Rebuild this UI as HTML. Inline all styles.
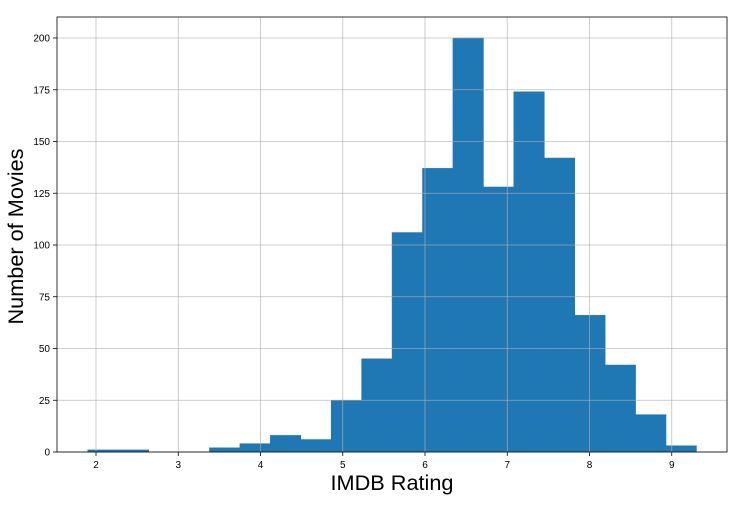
<!DOCTYPE html>
<html><head><meta charset="utf-8"><style>
body{margin:0;background:#fff;}
svg{display:block;font-family:"Liberation Sans",sans-serif;}
</style></head><body>
<svg id="chart" width="747" height="508"></svg>
<script>
const binStart = 1.9;
const binWidth = 0.37;
const counts = [1,1,0,0,2,4,8,6,25,45,106,137,200,128,174,142,66,42,18,3];
const xTicks = [2,3,4,5,6,7,8,9];
const yTicks = [0,25,50,75,100,125,150,175,200];

const L=57,R=727,T=17,B=452;
const xs = v => 96 + (v-2)*82.25;
const ys = v => B - v*2.07;
const NS="http://www.w3.org/2000/svg";
const svg=document.getElementById('chart');
function mk(tag,attrs,parent){const e=document.createElementNS(NS,tag);for(const k in attrs)e.setAttribute(k,attrs[k]);(parent||svg).appendChild(e);return e;}

counts.forEach((c,i)=>{
  const x0=xs(binStart+i*binWidth), x1=xs(binStart+(i+1)*binWidth);
  const r=mk('rect',{x:x0,y:ys(c),width:x1-x0,height:B-ys(c),fill:'#1f77b4',stroke:'#1f77b4','stroke-width':0.6});
  
  
});
xTicks.forEach(t=>{
  const x=xs(t);
  const g=mk('line',{x1:x,x2:x,y1:T,y2:B,stroke:'#b0b0b0','stroke-width':0.8,opacity:0.8});
  
  
  mk('line',{x1:x,x2:x,y1:B,y2:B+4,stroke:'#000','stroke-width':0.8});
  const tx=mk('text',{x:x,y:B+16,'text-anchor':'middle','font-size':10});
  tx.textContent=t;
  
  
});
yTicks.forEach(t=>{
  const y=ys(t);
  const g=mk('line',{x1:L,x2:R,y1:y,y2:y,stroke:'#b0b0b0','stroke-width':0.8,opacity:0.8});
  
  
  mk('line',{x1:L-4,x2:L,y1:y,y2:y,stroke:'#000','stroke-width':0.8});
  const tx=mk('text',{x:L-7,y:y+3.5,'text-anchor':'end','font-size':10});
  tx.textContent=t;
  
  
});
const f=mk('rect',{x:L,y:T,width:R-L,height:B-T,fill:'none',stroke:'#000','stroke-width':0.8});


const xl=mk('text',{x:(L+R)/2,y:490,'text-anchor':'middle','font-size':21.7});
xl.textContent='IMDB Rating';


const yl=mk('text',{x:0,y:0,'text-anchor':'middle','font-size':21.7,transform:'translate(23,'+((T+B)/2+2)+') rotate(-90)'});
yl.textContent='Number of Movies';


</script>
</body></html>
